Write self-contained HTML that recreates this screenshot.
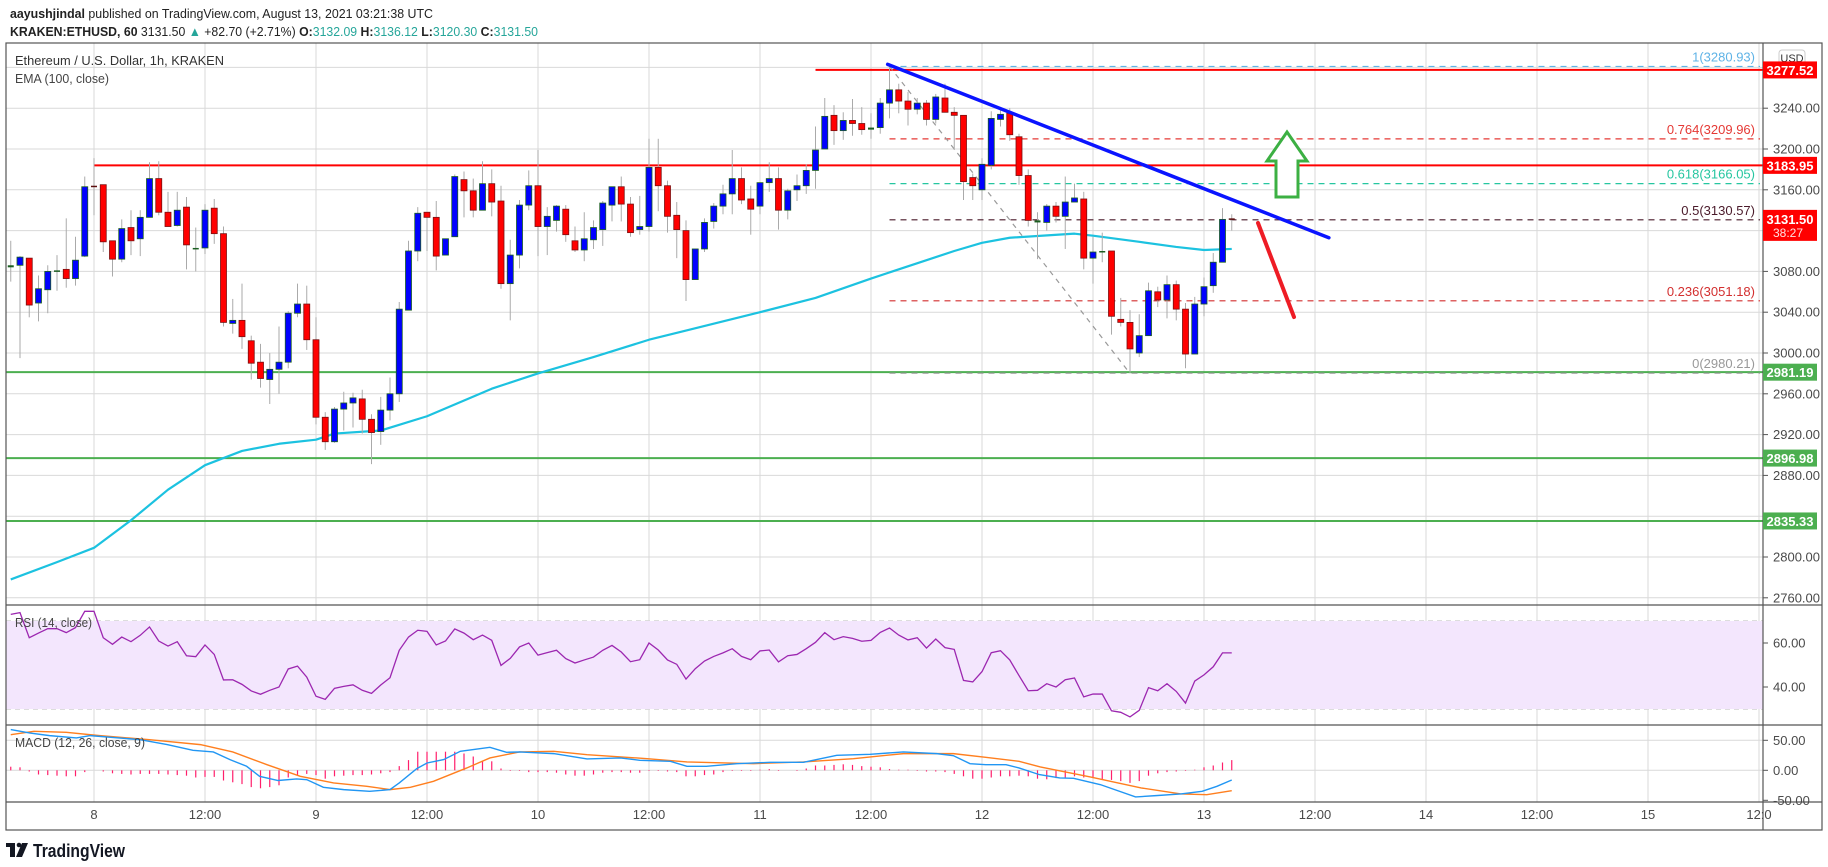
<!DOCTYPE html>
<html><head><meta charset="utf-8"><style>
html,body{margin:0;padding:0;background:#fff;}
svg{display:block;font-family:"Liberation Sans",sans-serif;}
</style></head><body>
<svg id="chart" width="1828" height="867" viewBox="0 0 1828 867" xmlns="http://www.w3.org/2000/svg">
<rect x="0" y="0" width="1828" height="867" fill="#fff"/>
<g>
<text x="10" y="18" font-size="13" fill="#222" textLength="423" lengthAdjust="spacingAndGlyphs"><tspan font-weight="bold">aayushjindal</tspan> published on TradingView.com, August 13, 2021 03:21:38 UTC</text>
<text x="10" y="36" font-size="13" fill="#222" textLength="528" lengthAdjust="spacingAndGlyphs"><tspan font-weight="bold">KRAKEN:ETHUSD, 60</tspan> 3131.50 <tspan fill="#26a69a">▲</tspan> +82.70 (+2.71%) <tspan font-weight="bold">O:</tspan><tspan fill="#26a69a">3132.09</tspan> <tspan font-weight="bold">H:</tspan><tspan fill="#26a69a">3136.12</tspan> <tspan font-weight="bold">L:</tspan><tspan fill="#26a69a">3120.30</tspan> <tspan font-weight="bold">C:</tspan><tspan fill="#26a69a">3131.50</tspan></text>
</g>
<g id="grid"></g>
<rect x="6" y="621" width="1757" height="88" fill="#f3e6fd"/>
<g id="levels"></g>
<g id="main"></g>
<g id="ind"></g>
<g id="frame">
<rect x="6" y="43" width="1816" height="787" fill="none" stroke="#555" stroke-width="1.2"/>
<line x1="6" y1="605" x2="1822" y2="605" stroke="#555" stroke-width="1.2"/>
<line x1="6" y1="725" x2="1822" y2="725" stroke="#555" stroke-width="1.2"/>
<line x1="6" y1="802" x2="1822" y2="802" stroke="#555" stroke-width="1.2"/>
<line x1="1763" y1="43" x2="1763" y2="830" stroke="#555" stroke-width="1.2"/>
</g>
<text x="15" y="65" font-size="13" fill="#333" textLength="209" lengthAdjust="spacingAndGlyphs">Ethereum / U.S. Dollar, 1h, KRAKEN</text>
<text x="15" y="83" font-size="13" fill="#444" textLength="94" lengthAdjust="spacingAndGlyphs">EMA (100, close)</text>
<text x="15" y="627" font-size="13" fill="#444" textLength="77" lengthAdjust="spacingAndGlyphs">RSI (14, close)</text>
<text x="15" y="747" font-size="13" fill="#444" textLength="130" lengthAdjust="spacingAndGlyphs">MACD (12, 26, close, 9)</text>
<g>
<rect x="6" y="843" width="9" height="4" fill="#131722"/><rect x="10" y="843" width="5" height="14" fill="#131722"/>
<circle cx="19" cy="845" r="2.3" fill="#131722"/><polygon points="22,843 28,843 22,857 16,857" fill="#131722"/>
<text x="33" y="857" font-size="18" font-weight="bold" fill="#131722" textLength="92" lengthAdjust="spacingAndGlyphs">TradingView</text>
</g>
<g><rect x="1779" y="50" width="26" height="16" rx="3" fill="#fff" stroke="#ccc"/><text x="1792" y="62" font-size="11" fill="#333" text-anchor="middle">USD</text></g>
</svg>
<script>
// ---------- data ----------
const hours = [];for(let h=-9;h<=123;h++)hours.push(h);
const opens=[3084,3086,3093,3049,3062,3081,3082,3073,3095,3164,3165,3110,3092,3123,3112,3133,3171,3138,3125,3143,3103,3103,3142,3117,3029,3032,3012,2991,2974,2984,2991,3039,3048,3013,2937,2913,2945,2951,2955,2935,2923,2944,2960,3042,3100,3138,3133,3096,3114,3170,3159,3140,3166,3149,3068,3096,3145,3164,3124,3130,3141,3110,3101,3111,3121,3145,3163,3146,3121,3124,3182,3164,3135,3120,3072,3102,3129,3144,3156,3171,3151,3144,3167,3171,3140,3160,3164,3179,3200,3233,3218,3228,3225,3219,3221,3245,3258,3247,3239,3245,3229,3250,3236,3233,3172,3160,3184,3229,3235,3212,3174,3128,3128,3144,3134,3148,3151,3093,3100,3100,3033,3030,3000,3017,3060,3052,3067,3043,2999,3048,3066,3089,3132];
const highs=[3110,3095,3093,3076,3086,3096,3132,3114,3173,3191,3165,3110,3131,3140,3140,3187,3188,3158,3158,3153,3123,3146,3151,3124,3053,3068,3017,3009,3000,3026,3041,3068,3066,3035,2942,2947,2962,2961,2964,2940,2957,2976,3050,3110,3143,3138,3149,3112,3175,3178,3171,3188,3180,3164,3111,3150,3179,3199,3143,3145,3145,3124,3138,3130,3149,3163,3173,3153,3154,3210,3210,3169,3148,3130,3102,3132,3147,3165,3199,3182,3164,3167,3187,3182,3161,3175,3185,3222,3250,3243,3236,3249,3241,3235,3250,3281,3264,3256,3250,3248,3254,3264,3241,3233,3176,3191,3237,3240,3240,3215,3180,3138,3146,3148,3173,3166,3158,3114,3118,3100,3054,3042,3038,3069,3065,3076,3071,3049,3055,3074,3098,3142,3136];
const lows=[3070,2995,3035,3031,3039,3061,3064,3066,3094,3135,3099,3075,3089,3096,3095,3133,3135,3124,3124,3082,3080,3097,3107,3026,3019,3004,2974,2966,2950,2960,2985,3035,3003,2930,2905,2912,2924,2927,2921,2891,2910,2934,2952,3042,3090,3100,3081,3096,3114,3133,3133,3140,3134,3063,3032,3083,3140,3095,3096,3119,3109,3099,3090,3102,3105,3129,3129,3114,3116,3119,3139,3118,3093,3051,3072,3099,3122,3136,3136,3146,3116,3136,3158,3121,3131,3149,3156,3161,3200,3204,3209,3213,3214,3210,3215,3230,3235,3223,3234,3223,3225,3236,3199,3150,3150,3150,3180,3222,3208,3165,3124,3092,3120,3128,3102,3148,3082,3068,3089,3018,3026,2980,2996,3017,3045,3034,3032,2985,2999,3036,3059,3089,3120];
const closes=[3086,3094,3047,3063,3080,3081,3073,3091,3163,3163,3109,3092,3122,3110,3133,3171,3138,3124,3140,3106,3103,3140,3117,3030,3032,3016,2990,2975,2984,2991,3039,3048,3013,2937,2913,2945,2951,2956,2935,2922,2944,2960,3043,3100,3137,3133,3095,3112,3173,3159,3140,3166,3148,3068,3096,3145,3164,3124,3134,3144,3116,3101,3112,3123,3147,3163,3146,3118,3124,3182,3164,3134,3121,3072,3102,3128,3144,3156,3171,3150,3141,3167,3171,3140,3159,3164,3179,3199,3232,3218,3228,3225,3219,3221,3245,3258,3247,3239,3245,3229,3251,3236,3233,3168,3164,3185,3230,3234,3214,3174,3130,3130,3144,3134,3148,3152,3093,3099,3100,3036,3030,3004,3017,3061,3052,3067,3043,2999,3048,3065,3089,3131,3131.5];
const emaHours=[-9,-4,0,4,8,12,16,20,24,26,31,36,43,48,54,60,64,72,78,84,90,93,96,99,106,108,113,117,120,123];
const emaValues=[2778,2795,2809,2836,2866,2890,2904,2911,2915,2921,2924,2938,2965,2980,2996,3013,3022,3040,3054,3073,3091,3100,3108,3113,3117,3115,3109,3104,3101,3102];
const rsiValues=[73,73.8,62.4,64.5,66.5,66.5,64.7,67,74.4,74.4,62.4,59.4,62.7,60.6,63.5,67.3,60.9,58.6,60.6,54.2,53.8,59.1,54.8,43.2,43.3,41.2,38.2,36.7,38.5,40,48.2,49.5,44.5,35.8,34.4,39.4,40.3,41,38.5,37.1,40.9,44.2,56.7,62.7,65.8,65.3,59.1,60.9,66.4,64.5,61.5,63.6,61.2,49.8,53,58.2,
60,54.5,55.6,56.7,52.9,50.9,52.3,53.6,56.7,58.9,55.9,51.5,52.4,60,56.8,52.3,50.3,43.6,48.3,51.8,53.9,55.5,57.4,53.9,52.4,56.4,56.8,51.4,54.2,54.8,57.4,60.3,64.7,61.5,62.9,62.1,60.8,61.2,64.8,66.8,63.6,61.4,62.4,57.7,61.8,57.9,57.1,43,42.3,47,55.6,56.5,52.3,45.2,38.3,38.5,
41.5,40,43.3,44.1,35.5,36.8,36.8,29.2,28.5,26.4,29.4,39.7,38.3,41.5,38,32.7,42.7,45.5,49.2,55.5,55.5];
const macdHours=[-9,-6.9,-4.8,-1.9,-0.4,5,7.9,10.7,12.9,14.7,16.5,17.9,19.9,21.9,23,24.8,27,29.8,32,33,34.9,36,37.8,39.6,42.8,44.6,46,49.7,53.3,56.9,59,62.3,64.1,66.2,69.5,73.1,76.7,80.3,83.9,87.5,91.1,92.9,94.7,96.4,98.6,100,102.2,104.4,105.9,108.8,112.6,114.8,117.5,119.8,121.4,123];
const macdValues=[67.8,62,57.8,54,57.8,51,42.8,33.3,30.6,17.8,6.7,-10,-17,-14.4,-15.6,-28.3,-32.2,-35,-32.2,-21,2.8,12.2,17.8,31.7,38.3,30,30.6,27.8,18.9,20.6,16.7,15,6.7,6.7,11.1,13.3,13.3,25,26.7,30.6,27.8,24.4,11.1,9.4,9.4,3.9,-7.2,-12.8,-13.3,-23.9,-44.4,-42.2,-39.4,-35,-26.7,-16.1];
const signalHours=[-9,-6.5,-3,0.6,6,11.5,15,18.7,22.3,25.9,29.5,32,34.2,36.7,40.3,42.8,46,49.7,53.3,59.8,64.1,71.3,76.7,82.1,87.5,92.9,96.4,100,102.3,107.7,113.2,117.5,120.3,123];
const signalValues=[59.4,65,63.3,57.8,51,42.8,30.6,9.4,-10,-21,-26.7,-32.2,-28.3,-18.3,3.9,20.6,30.6,31.7,26.1,19.4,13.9,11.1,13.9,19.4,27.8,27.8,21.7,15,5.6,-11.1,-29.4,-39.4,-40.6,-33.9];
const histValues=[6,5,-2,-7,-8,-9,-10,-10,-3,0,-2,-5,-6,-7,-6,-6,-6,-7,-8,-9,-12,-11,-11,-17,-20,-23,-28,-30,-28,-25,-12,-8,-6,-8,-14,-10,-9,-8,-8,-7,-5,-3,7,17,31,31,31,31,31,28,23,16,15,3,-1,-1,
-3,-3,-3,-4,-7,-9,-9,-7,-4,-3,-3,-4,-4,-1,-1,-2,-3,-10,-10,-8,-7,-3,-1,-1,-1,1,2,-1,0,-1,3,8,8,9,10,9,7,6,5,2,1,1,-1,-2,-2,-3,-6,-10,-14,-14,-12,-10,-10,-9,-10,-14,
-15,-13,-12,-10,-12,-13,-15,-16,-18,-21,-18,-9,-5,-3,-2,-1,1,5,8,13,17];
const priceTicks=[3240,3200,3160,3080,3040,3000,2960,2920,2880,2800,2760];
const gridPrices=[3280,3240,3200,3160,3120,3080,3040,3000,2960,2920,2880,2840,2800,2760];
const timeTicks=[0,12,24,36,48,60,72,84,96,108,120,132,144,156,168,180];
const timeLabels=["8","12:00","9","12:00","10","12:00","11","12:00","12","12:00","13","12:00","14","12:00","15","12:0"];
const levelPrices=[3277.52,3183.95,2981.19,2896.98,2835.33];
const levelColors=["#ff0000","#ff0000","#4caf50","#4caf50","#4caf50"];
const levelStartHours=[78,0,-10,-10,-10];
const fibRatios=["1","0.764","0.618","0.5","0.236","0"];
const fibPrices=[3280.93,3209.96,3166.05,3130.57,3051.18,2980.21];
const fibColors=["#5fb3e6","#e53935","#26c6a0","#4a1a2a","#d32f2f","#999"];
// ---------- scales ----------
const NS="http://www.w3.org/2000/svg";
const X=h=>94+h*9.25;
const Y=p=>353-(p-3000)*1.02;
const RY=r=>643+(60-r)*2.2;
const MY=m=>770.3-m*0.6;
function mk(tag,attrs,parent){const e=document.createElementNS(NS,tag);for(const k in attrs)e.setAttribute(k,attrs[k]);parent.appendChild(e);return e;}
const grid=document.getElementById('grid'),levels=document.getElementById('levels'),main=document.getElementById('main'),ind=document.getElementById('ind'),svg=document.getElementById('chart');
gridPrices.forEach(p=>{const l=mk('line',{x1:6,x2:1763,y1:Y(p),y2:Y(p),stroke:'#d9d9d9','stroke-width':1},grid);

});
[60,40].forEach(r=>{const l=mk('line',{x1:6,x2:1763,y1:RY(r),y2:RY(r),stroke:'#cdb6dc'},grid);

});
[70,30].forEach(r=>{const l=mk('line',{x1:6,x2:1763,y1:RY(r),y2:RY(r),stroke:'#bbb','stroke-dasharray':'5,4'},grid);

});
[50,0].forEach(m=>{const l=mk('line',{x1:6,x2:1763,y1:MY(m),y2:MY(m),stroke:'#d9d9d9'},grid);

});
timeTicks.forEach((h,i)=>{const x=X(h);const l=mk('line',{x1:x,x2:x,y1:43,y2:802,stroke:'#d9d9d9'},grid);


const t=mk('text',{x:x,y:819,'font-size':13,fill:'#4a4a4a','text-anchor':'middle'},svg);t.textContent=timeLabels[i];

});
priceTicks.forEach(p=>{const y=Y(p);mk('line',{x1:1763,x2:1768,y1:y,y2:y,stroke:'#555'},svg);
const t=mk('text',{x:1773,y:y+4.5,'font-size':13,fill:'#4a4a4a'},svg);t.textContent=p.toFixed(2);

});
[[60,'60.00',RY(60)],[40,'40.00',RY(40)],[50,'50.00',MY(50)],[0,'0.00',MY(0)],[-50,'-50.00',MY(-50)]].forEach(a=>{mk('line',{x1:1763,x2:1768,y1:a[2],y2:a[2],stroke:'#555'},svg);
const t=mk('text',{x:1773,y:a[2]+4.5,'font-size':13,fill:'#4a4a4a'},svg);t.textContent=a[1];

});
levelPrices.forEach((p,i)=>{const y=Y(p);const l=mk('line',{x1:Math.max(6,X(levelStartHours[i])),x2:1763,y1:y,y2:y,stroke:levelColors[i],'stroke-width':2},levels);


const r=mk('rect',{x:1763,y:y-8.5,width:54,height:17,fill:levelColors[i]=='#ff0000'?'#ff0000':'#4caf50'},svg);


const t=mk('text',{x:1790,y:y+5,'font-size':13,'font-weight':'bold',fill:'#fff','text-anchor':'middle'},svg);t.textContent=p.toFixed(2);

});
fibPrices.forEach((p,i)=>{const y=Y(p);const l=mk('line',{x1:X(86),x2:1760,y1:y,y2:y,stroke:fibColors[i],'stroke-width':1.2,'stroke-dasharray':'6,5'},levels);


const t=mk('text',{x:1755,y:y-5,'font-size':13,fill:fibColors[i],'text-anchor':'end'},levels);t.textContent=fibRatios[i]+'('+p.toFixed(2)+')';

});
const fd=mk('line',{x1:X(86),y1:Y(3281),x2:X(112),y2:Y(2980),stroke:'#999','stroke-width':1.2,'stroke-dasharray':'5,5'},levels);


const emaPts=emaHours.map((h,i)=>X(h)+','+Y(emaValues[i])).join(' ');
const ema=mk('polyline',{points:emaPts,fill:'none',stroke:'#1cc2e0','stroke-width':2.2,'stroke-linejoin':'round'},main);


hours.forEach((h,i)=>{const o=opens[i],c=closes[i],hi=highs[i],lo=lows[i],x=X(h);const up=c>=o;
const w=mk('line',{x1:x,x2:x,y1:Y(hi),y2:Y(lo),stroke:'#aaa','stroke-width':1},main);


const top=Y(Math.max(o,c)),bh=Math.max(1.5,Math.abs(Y(o)-Y(c)));
const b=mk('rect',{x:x-3,y:top,width:6,height:bh,fill:bh<2.5?(up?'#1b5e20':'#5d1010'):(up?'#0000ff':'#ff0000'),stroke:up?'#1b5e20':'#7a1010','stroke-width':bh<2.5?0:0.8},main);

});
const tl=mk('line',{x1:X(85.8),y1:Y(3283),x2:X(133.5),y2:Y(3113),stroke:'#0a14ff','stroke-width':3.5,'stroke-linecap':'round'},main);


const ra=mk('line',{x1:1258,y1:223,x2:1294,y2:317,stroke:'#ee1c25','stroke-width':4,'stroke-linecap':'round'},main);


const ga=mk('polygon',{points:'1287,132 1307,161 1298,161 1298,197 1276,197 1276,161 1267,161',fill:'#fff',stroke:'#3cb043','stroke-width':3,'stroke-linejoin':'miter'},main);


const cp=mk('rect',{x:1763,y:Y(3131.5)-9,width:54,height:31,fill:'#ff0000'},svg);


const cpt=mk('text',{x:1790,y:Y(3131.5)+5,'font-size':13,'font-weight':'bold',fill:'#fff','text-anchor':'middle'},svg);cpt.textContent='3131.50';


const cdt=mk('text',{x:1773,y:Y(3131.5)+18,'font-size':12,fill:'#ffe0e0'},svg);cdt.textContent='38:27';


const rsi=mk('polyline',{points:hours.map((h,i)=>X(h)+','+RY(rsiValues[i])).join(' '),fill:'none',stroke:'#9c27b0','stroke-width':1.3},ind);


hours.forEach((h,i)=>{const v=histValues[i];const hb=mk('line',{x1:X(h),x2:X(h),y1:MY(0),y2:MY(v),stroke:'#ff1f6b','stroke-width':1.2},ind);

});
const sg=mk('polyline',{points:signalHours.map((h,i)=>X(h)+','+MY(signalValues[i])).join(' '),fill:'none',stroke:'#ff7f1f','stroke-width':1.4},ind);


const ml=mk('polyline',{points:macdHours.map((h,i)=>X(h)+','+MY(macdValues[i])).join(' '),fill:'none',stroke:'#2196f3','stroke-width':1.4},ind);


</script>
</body></html>
